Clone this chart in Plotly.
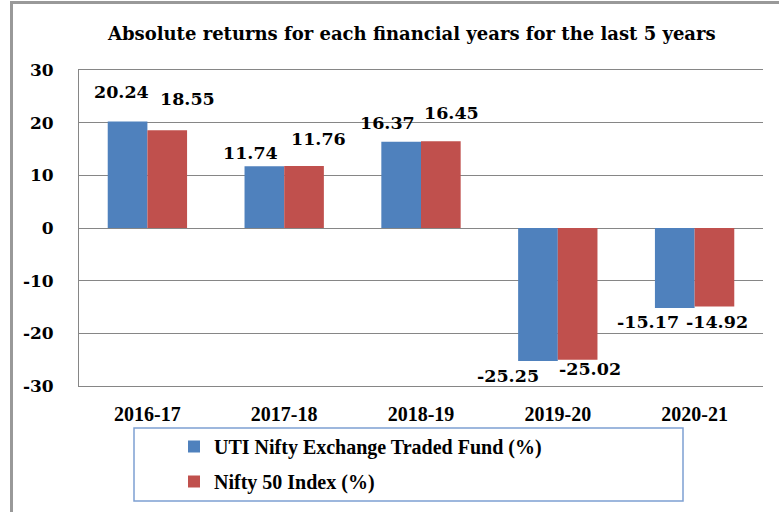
import plotly.graph_objects as go

categories = ["2016-17", "2017-18", "2018-19", "2019-20", "2020-21"]
uti_etf = [20.24, 11.74, 16.37, -25.25, -15.17]
nifty50 = [18.55, 11.76, 16.45, -25.02, -14.92]
series_names = ["UTI Nifty Exchange Traded Fund (%)", "Nifty 50 Index (%)"]
y_ticks = [-30, -20, -10, 0, 10, 20, 30]
y_tick_labels = ["-30", "-20", "-10", "0", "10", "20", "30"]
title_text = "Absolute returns for each financial years for the last 5 years"

BLUE = "#4F81BD"
RED = "#C0504D"
GRID = "#868686"

W, H = 779, 512
ML, MR, MT, MB = 79, 16, 70, 126
PW, PH = W - ML - MR, H - MT - MB


def px_x(p):
    return (p - ML) / PW


def px_y(p):
    return (H - MB - p) / PH


fig = go.Figure()
fig.add_trace(go.Bar(x=categories, y=uti_etf, name=series_names[0],
                     marker=dict(color=BLUE, line=dict(width=0)), legendgroup="a"))
fig.add_trace(go.Bar(x=categories, y=nifty50, name=series_names[1],
                     marker=dict(color=RED, line=dict(width=0)), legendgroup="b"))

# data label offsets (styling only): shifts in px relative to category centre / bar end
blue_dx = [-26, -34, -34, -50, -47]
blue_dy = [29, 13, 19, -15, -14]
red_dx = [40, 34, 30, 32, 22]
red_dy = [31, 27, 28, -9, -15]

label_font = dict(family="DejaVu Serif", size=17.5, color="black", weight="bold")
annotations = []
for i, c in enumerate(categories):
    for vals, dx, dy in ((uti_etf, blue_dx, blue_dy), (nifty50, red_dx, red_dy)):
        annotations.append(dict(x=c, y=vals[i], xref="x", yref="y", text=f"{vals[i]:.2f}",
                                showarrow=False, xshift=dx[i], yshift=dy[i],
                                font=label_font, xanchor="center", yanchor="middle"))

annotations.append(dict(text=title_text,
                        x=px_x(411), y=px_y(33), xref="paper", yref="paper", showarrow=False,
                        xanchor="center", yanchor="middle",
                        font=dict(family="DejaVu Serif", size=18, color="black", weight="bold")))

shapes = [
    # legend box
    dict(type="rect", xref="paper", yref="paper", x0=px_x(134), x1=px_x(683),
         y0=px_y(501), y1=px_y(428), line=dict(color="#7EA0D2", width=1.5),
         fillcolor="rgba(0,0,0,0)"),
    # outer chart border (left and top)
    dict(type="line", xref="paper", yref="paper", x0=px_x(11.5), x1=px_x(11.5),
         y0=px_y(512), y1=px_y(2), line=dict(color="#999999", width=3)),
    dict(type="line", xref="paper", yref="paper", x0=px_x(10), x1=px_x(779),
         y0=px_y(2.5), y1=px_y(2.5), line=dict(color="#999999", width=3)),
]

fig.update_layout(
    width=W, height=H,
    margin=dict(l=ML, r=MR, t=MT, b=MB, pad=0, autoexpand=False),
    paper_bgcolor="white", plot_bgcolor="white",
    barmode="group", bargap=0.42, bargroupgap=0,
    showlegend=True,
    legend=dict(x=174 / W, y=1 - 427 / H, xanchor="left", yanchor="top",
                xref="container", yref="container", bgcolor="rgba(0,0,0,0)",
                traceorder="grouped", tracegroupgap=6,
                font=dict(family="Liberation Serif", size=20, color="black", weight="bold")),
    annotations=annotations,
    shapes=shapes,
    xaxis=dict(showgrid=False, showline=True, mirror=True, linecolor=GRID, linewidth=1,
               ticks="", ticklabelstandoff=10, automargin=False,
               tickfont=dict(family="Liberation Serif", size=20, color="black", weight="bold")),
    yaxis=dict(range=[-30, 30], tickvals=y_ticks, ticktext=y_tick_labels,
               showgrid=True, gridcolor=GRID, gridwidth=1,
               zeroline=True, zerolinecolor=GRID, zerolinewidth=1, automargin=False,
               showline=True, linecolor=GRID, linewidth=1, ticks="", ticklabelstandoff=21,
               tickfont=dict(family="DejaVu Serif", size=17, color="black", weight="bold")),
)

fig.write_html("out.html", post_script="document.body.style.margin='0';",
               config={"displayModeBar": False})
